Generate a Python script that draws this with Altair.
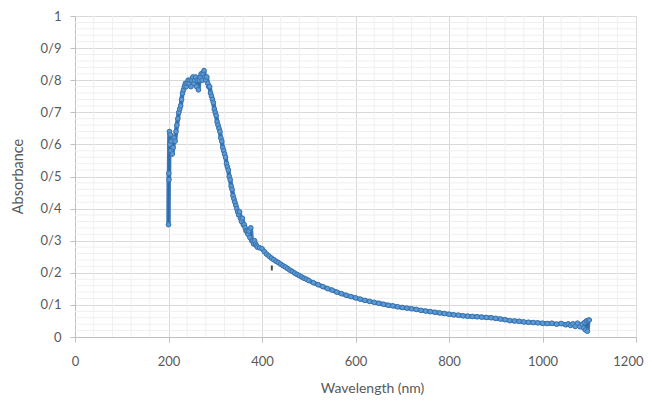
import altair as alt
import pandas as pd

# Absorbance spectrum
wavelength = [
    200, 200.5, 201, 202, 203, 204, 205, 206, 208, 210, 212, 214, 216, 218, 220,
    222, 224, 226, 228, 230, 232, 234, 236, 238, 240, 242, 244, 246, 248, 250,
    252, 254, 256, 258, 260, 262, 264, 266, 268, 270, 272, 274, 276, 278, 280,
    282, 284, 286, 288, 290, 292, 294, 296, 298, 300, 302, 304, 306, 308, 310,
    312, 314, 316, 318, 320, 322, 324, 326, 328, 330, 332, 334, 336, 338, 340,
    342, 344, 346, 348, 350, 352, 354, 356, 358, 360, 362, 364, 366, 368, 370,
    372, 374, 376, 378, 380, 382, 384, 386, 388, 390, 395, 400, 405, 410, 415,
    420, 425, 430, 435, 440, 445, 450, 455, 460, 465, 470, 475, 480, 485, 490,
    495, 500, 510, 520, 530, 540, 550, 560, 570, 580, 590, 600, 610, 620, 630,
    640, 650, 660, 670, 680, 690, 700, 710, 720, 730, 740, 750, 760, 770, 780,
    790, 800, 810, 820, 830, 840, 850, 860, 870, 880, 890, 900, 910, 920, 930,
    940, 950, 960, 970, 980, 990, 1000, 1010, 1020, 1030, 1040, 1050, 1055, 1060,
    1065, 1070, 1075, 1080, 1085, 1088, 1090, 1092, 1094, 1096, 1098, 1100,
]
absorbance = [
    0.35, 0.51, 0.49, 0.64, 0.60, 0.63, 0.58, 0.61, 0.57, 0.59, 0.62, 0.61, 0.64, 0.66, 0.68,
    0.70, 0.71, 0.72, 0.74, 0.76, 0.77, 0.78, 0.79, 0.78, 0.79, 0.80, 0.79, 0.80, 0.78, 0.80,
    0.81, 0.79, 0.80, 0.81, 0.78, 0.80, 0.77, 0.80, 0.81, 0.82, 0.80, 0.82, 0.83, 0.81, 0.80,
    0.81, 0.79, 0.78, 0.78, 0.76, 0.75, 0.74, 0.73, 0.71, 0.70, 0.69, 0.67, 0.66, 0.65, 0.64,
    0.62, 0.61, 0.59, 0.58, 0.57, 0.56, 0.54, 0.53, 0.52, 0.50, 0.49, 0.47, 0.46, 0.44, 0.43,
    0.42, 0.41, 0.40, 0.39, 0.38, 0.39, 0.37, 0.36, 0.37, 0.35, 0.35, 0.34, 0.33, 0.33, 0.32,
    0.33, 0.31, 0.34, 0.30, 0.30, 0.29, 0.30, 0.29, 0.285, 0.28, 0.278, 0.275, 0.266, 0.258, 0.252,
    0.246, 0.241, 0.236, 0.232, 0.227, 0.222, 0.218, 0.213, 0.208, 0.204, 0.199, 0.195, 0.191, 0.187, 0.183,
    0.180, 0.176, 0.169, 0.163, 0.157, 0.151, 0.146, 0.140, 0.135, 0.130, 0.126, 0.122, 0.118, 0.114, 0.111,
    0.108, 0.105, 0.102, 0.099, 0.097, 0.094, 0.092, 0.090, 0.088, 0.086, 0.083, 0.081, 0.079, 0.077, 0.075,
    0.073, 0.071, 0.069, 0.068, 0.066, 0.065, 0.064, 0.063, 0.062, 0.061, 0.060, 0.058, 0.056, 0.054, 0.051,
    0.050, 0.049, 0.047, 0.046, 0.045, 0.044, 0.043, 0.042, 0.043, 0.040, 0.042, 0.038, 0.041, 0.036,
    0.041, 0.033, 0.043, 0.032, 0.040, 0.028, 0.045, 0.022, 0.050, 0.018, 0.052, 0.053,
]

# stray black mark in the reference
stray_x = [421]
stray_y = [0.215]

x_ticks = [0, 200, 400, 600, 800, 1000, 1200]
y_ticks = [0, 0.1, 0.2, 0.3, 0.4, 0.5, 0.6, 0.7, 0.8, 0.9, 1.0]
x_minor = [v for v in range(40, 1200, 40) if v % 200 != 0]
y_minor = [k / 100 for k in range(2, 100, 2) if k % 10 != 0]

df = pd.DataFrame({"wl": wavelength, "abs": absorbance})
stray = pd.DataFrame({"wl": stray_x, "abs": stray_y})
xminor_df = pd.DataFrame({"v": x_minor})
yminor_df = pd.DataFrame({"v": y_minor})

FONT = "Lato"
TXT = "#595959"

xscale = alt.Scale(domain=[0, 1200], nice=False, zero=False)
yscale = alt.Scale(domain=[0, 1], nice=False, zero=False)

x_axis = alt.Axis(
    values=x_ticks, format="d", title="Wavelength (nm)", grid=True, gridColor="#D9D9D9",
    domainColor="#BFBFBF", tickColor="#BFBFBF", tickSize=5, labelPadding=13,
    labelFont=FONT, labelFontSize=13, labelColor=TXT,
    labelAlign={"condition": {"test": "datum.value >= 1200", "value": "right"}, "value": "center"},
    labelOffset={"condition": {"test": "datum.value >= 1200", "value": 7}, "value": 0},
    titleFont=FONT, titleFontSize=14, titleColor=TXT, titleFontWeight="normal",
    titleX=297, titleY=51, titleBaseline="middle", labelFlush=False,
)
y_axis = alt.Axis(
    values=y_ticks, title="Absorbance", grid=True, gridColor="#D9D9D9",
    domainColor="#BFBFBF", tickColor="#BFBFBF", tickSize=5, labelPadding=9,
    labelFont=FONT, labelFontSize=13, labelColor=TXT,
    labelExpr="datum.value >= 1 ? '1' : datum.value == 0 ? '0' : '0/' + round(datum.value * 10)",
    titleFont=FONT, titleFontSize=14.5, titleColor=TXT, titleFontWeight="normal",
    titleX=-57, titleY=160, titleBaseline="middle", titleAngle=-90,
)

xminor = alt.Chart(xminor_df).mark_rule(color="#EFEFEF", strokeWidth=1).encode(
    x=alt.X("v:Q", scale=xscale, axis=x_axis)
)
yminor = alt.Chart(yminor_df).mark_rule(color="#EFEFEF", strokeWidth=1).encode(
    y=alt.Y("v:Q", scale=yscale, axis=y_axis)
)

base = alt.Chart(df).encode(
    x=alt.X("wl:Q", scale=xscale, axis=x_axis),
    y=alt.Y("abs:Q", scale=yscale, axis=y_axis),
)
band = base.mark_line(color="#3B78BA", strokeWidth=4.5, strokeJoin="round", strokeCap="round")
line = base.mark_line(color="#2F69A8", strokeWidth=1.4)
points = base.mark_point(
    filled=True, shape="circle", size=22, fill="#5B9BD5", stroke="#3A72AE",
    strokeWidth=1, opacity=1,
)
stray_mark = alt.Chart(stray).mark_tick(
    orient="vertical", size=5, thickness=2, color="black"
).encode(
    x=alt.X("wl:Q", scale=xscale, axis=x_axis),
    y=alt.Y("abs:Q", scale=yscale, axis=y_axis),
)

chart = alt.layer(xminor, yminor, band, line, points, stray_mark).properties(
    width=561, height=321,
    autosize=alt.AutoSizeParams(type="none"),
    padding={"left": 67, "top": 8, "right": 8, "bottom": 58},
).configure_view(stroke=None).configure(background="white")

chart.save("out.html", embed_options={"renderer": "svg", "actions": False})
